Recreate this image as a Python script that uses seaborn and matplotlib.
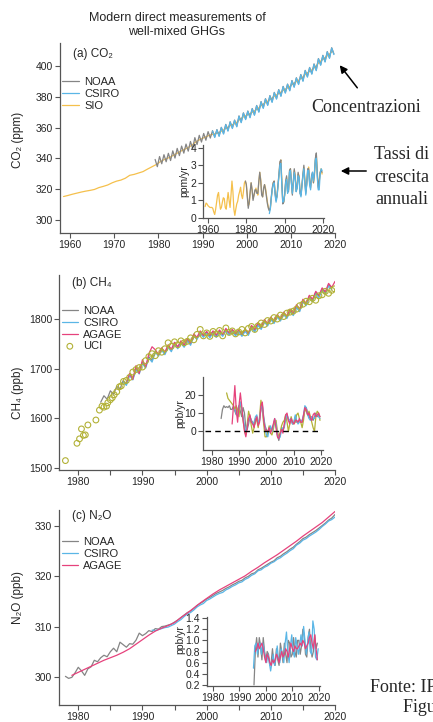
import numpy as np
import matplotlib
matplotlib.use("Agg")
import matplotlib.pyplot as plt
import seaborn as sns

sns.set_style("ticks")
plt.rcParams["font.family"] = ["Liberation Sans Narrow", "Liberation Sans", "DejaVu Sans"]

# colours of the networks
GRAY = "#858585"
BLUE = "#5ab6e6"
ORANGE = "#f5c04c"
PINK = "#e6427c"
OLIVE = "#b2b136"

# ---------------- (a) CO2, ppm ----------------
co2_sio_start = 1958.5          # annual means
co2_sio = [315.2, 315.9, 316.7, 317.4, 318.1, 318.7, 319.2, 319.8, 321.0, 321.8,
           322.7, 324.1, 325.2, 325.9, 327.1, 329.0, 329.6, 330.5, 331.4, 333.0,
           334.5, 336.0, 338.0, 339.5, 340.6, 342.2, 343.8, 345.3, 346.7, 348.4,
           350.8, 352.4, 353.7, 355.0, 355.8, 356.5, 358.0, 359.9, 361.6, 362.8,
           365.5, 367.4, 368.7, 370.3, 372.3, 374.8, 376.7, 378.7, 380.8, 382.6,
           384.6, 386.2, 388.5, 390.3, 392.4, 395.1, 397.0, 399.3, 402.7, 404.9,
           407.2, 409.8]
co2_noaa_start = 1979.25        # half-yearly (seasonal high / low)
co2_noaa = [339.3, 334.6, 341.2, 336.5, 342.4, 337.8, 343.3, 338.6, 344.9, 340.2,
            346.5, 341.8, 348.0, 343.4, 349.3, 344.7, 351.0, 346.4, 353.5, 349.0,
            355.0, 350.6, 356.2, 351.8, 357.4, 353.2, 358.0, 354.0, 358.7, 354.7,
            360.2, 356.2, 362.1, 358.1, 363.8, 359.8, 364.9, 360.9, 367.6, 363.6,
            369.6, 365.6, 370.8, 366.8, 372.4, 368.4, 374.4, 370.4, 376.9, 372.9,
            378.8, 374.8, 380.8, 376.8, 382.9, 378.9, 384.7, 380.7, 386.8, 382.8,
            388.3, 384.3, 390.6, 386.6, 392.4, 388.4, 394.5, 390.5, 397.2, 393.2,
            399.1, 395.1, 401.4, 397.4, 404.9, 400.9, 407.0, 403.0, 409.4, 405.4,
            411.9, 407.9]
co2_csiro_start = 1992.25
co2_csiro = [357.8, 353.6, 358.5, 354.3, 360.0, 355.8, 361.9, 357.7, 363.6, 359.4,
             364.7, 360.5, 367.4, 363.2, 369.4, 365.2, 370.6, 366.4, 372.2, 368.0,
             374.2, 370.0, 376.7, 372.5, 378.6, 374.4, 380.6, 376.4, 382.7, 378.5,
             384.5, 380.3, 386.6, 382.4, 388.1, 383.9, 390.4, 386.2, 392.2, 388.0,
             394.3, 390.1, 397.0, 392.8, 398.9, 394.7, 401.2, 397.0, 404.7, 400.5,
             406.8, 402.6, 409.2, 405.0, 411.7, 407.5]

# growth rates, ppm/yr, half-yearly
gr_co2_sio_start = 1958.5
gr_co2_sio = [0.65,
              0.85, 0.8, 0.7, 0.65, 0.6, 0.6, 0.6, 0.55, 0.35, 0.2,
              0.5, 0.9, 1.3, 1.45, 0.9, 0.5, 0.6, 0.9, 1.15, 1.1,
              0.6, 0.5, 1.0, 1.45, 1.0, 0.6, 1.3, 2.1, 1.5, 0.5,
              0.15, 0.5, 0.8, 0.95, 1.3, 1.5, 1.75, 1.3, 1.1, 1.5,
              2.0, 2.1, 1.9, 1.3, 0.7, 0.8, 1.4, 2.0, 1.6, 1.1,
              1.3, 1.5, 1.7, 1.5, 1.3, 2.0, 2.6, 2.2, 1.4, 1.2,
              1.6, 1.9, 1.7, 1.3, 0.9, 0.6, 0.45, 0.5, 1.1, 1.6,
              2.0, 2.1, 1.5, 1.1, 1.2, 1.8, 2.4, 3.1, 3.3, 2.2,
              1.0, 0.9, 1.3, 2.0, 2.3, 1.5, 1.6, 2.6, 2.8, 2.1,
              1.4, 2.0, 2.7, 2.4, 1.6, 1.7, 2.5, 2.4, 1.5, 1.3,
              1.8, 2.4, 2.9, 2.2, 1.5, 1.9, 2.7, 2.9, 2.1, 1.8,
              2.3, 2.5, 2.0, 2.4, 3.3, 3.6, 2.6, 1.8, 2.0, 2.6,
              2.8, 2.5]
gr_co2_noaa_start = 1979.5
gr_co2_noaa = [2.1,
               1.9, 1.2, 0.55, 0.9, 1.5, 2.0, 1.6, 1.0, 1.3, 1.6,
               1.6, 1.4, 1.4, 2.1, 2.6, 2.1, 1.3, 1.2, 1.7, 1.9,
               1.6, 1.2, 0.8, 0.55, 0.4, 0.6, 1.2, 1.7, 2.0, 2.1,
               1.4, 1.0, 1.3, 1.9, 2.5, 3.2, 3.3, 2.0, 0.8, 0.9,
               1.4, 2.1, 2.4, 1.5, 1.5, 2.7, 2.8, 2.0, 1.3, 2.1,
               2.8, 2.3, 1.5, 1.8, 2.6, 2.3, 1.4, 1.3, 1.9, 2.5,
               3.0, 2.1, 1.4, 2.0, 2.8, 2.8, 2.0, 1.7, 2.4, 2.6,
               2.0, 2.5, 3.4, 3.7, 2.5, 1.7, 2.1, 2.6, 2.7, 2.6]
gr_co2_csiro_start = 1992.0
gr_co2_csiro = [0.25, 0.5, 1.1, 1.6, 1.9, 2.0, 1.3, 0.9, 1.2, 1.8,
                2.4, 3.0, 3.1, 1.9, 0.9, 0.95, 1.3, 2.0, 2.2, 1.4,
                1.6, 2.6, 2.7, 2.0, 1.4, 2.0, 2.6, 2.2, 1.5, 1.7,
                2.4, 2.3, 1.4, 1.2, 1.8, 2.4, 2.8, 2.0, 1.3, 1.9,
                2.7, 2.7, 1.9, 1.6, 2.3, 2.6, 2.1, 2.6, 3.3, 3.4,
                2.3, 1.6, 1.6, 2.5, 2.8, 2.7]

# ---------------- (b) CH4, ppb ----------------
ch4_noaa_start = 1983.5
ch4_noaa = [1632, 1645, 1638, 1655, 1648, 1664, 1658, 1676, 1668, 1689,
            1680, 1700, 1693, 1713, 1704, 1724, 1716, 1736, 1728, 1740,
            1731, 1746, 1737, 1752, 1743, 1754, 1746, 1759, 1750, 1768,
            1762, 1774, 1766, 1774, 1765, 1775, 1766, 1776, 1768, 1779,
            1771, 1778, 1769, 1777, 1768, 1778, 1770, 1785, 1777, 1790,
            1782, 1797, 1789, 1802, 1794, 1807, 1799, 1812, 1804, 1818,
            1810, 1826, 1818, 1838, 1830, 1846, 1838, 1854, 1846, 1861,
            1853, 1870, 1862]
ch4_csiro_start = 1987.0
ch4_csiro = [1673, 1666, 1686, 1677, 1697, 1689, 1710, 1701, 1721, 1713,
             1733, 1725, 1737, 1728, 1743, 1734, 1749, 1740, 1751, 1743,
             1756, 1747, 1765, 1759, 1771, 1763, 1771, 1762, 1772, 1763,
             1773, 1765, 1776, 1768, 1775, 1766, 1774, 1765, 1775, 1767,
             1782, 1774, 1787, 1779, 1794, 1786, 1799, 1791, 1804, 1796,
             1809, 1801, 1815, 1807, 1823, 1815, 1835, 1827, 1843, 1835,
             1851, 1843, 1858, 1850, 1867, 1859]
ch4_agage_start = 1987.5
ch4_agage = [1672, 1690, 1678, 1706, 1690, 1718, 1703, 1730, 1744, 1738,
             1728, 1742, 1733, 1748, 1739, 1753, 1744, 1756, 1748, 1760,
             1752, 1770, 1763, 1776, 1767, 1775, 1767, 1776, 1768, 1778,
             1769, 1781, 1772, 1779, 1771, 1778, 1770, 1779, 1772, 1787,
             1779, 1793, 1784, 1799, 1791, 1804, 1796, 1809, 1801, 1814,
             1806, 1820, 1812, 1829, 1820, 1840, 1832, 1848, 1840, 1856,
             1848, 1863, 1855, 1872, 1864, 1876]
uci_year = [1978.0, 1979.8, 1980.2, 1980.5, 1980.8, 1981.1, 1981.5, 1982.75, 1983.3, 1983.7,
            1984.0, 1984.4, 1984.6, 1985.0, 1985.3, 1985.6, 1986.0, 1986.4, 1986.7, 1987.05,
            1987.5, 1988.0, 1988.5, 1989.0, 1989.5, 1990.0, 1990.5, 1991.0, 1991.5, 1992.0,
            1992.5, 1993.0, 1993.5, 1994.0, 1994.5, 1995.0, 1995.5, 1996.0, 1996.5, 1997.0,
            1997.5, 1998.0, 1998.5, 1999.0, 1999.5, 2000.0, 2000.5, 2001.0, 2001.5, 2002.0,
            2002.5, 2003.0, 2003.5, 2004.0, 2004.5, 2005.0, 2005.5, 2006.0, 2006.5, 2007.0,
            2007.5, 2008.0, 2008.5, 2009.0, 2009.5, 2010.0, 2010.5, 2011.0, 2011.5, 2012.0,
            2012.5, 2013.0, 2013.5, 2014.0, 2014.5, 2015.0, 2015.5, 2016.0, 2016.5, 2017.0,
            2017.5, 2018.0, 2018.5, 2019.0, 2019.5, 2019.9]
uci_ch4 = [1514, 1549, 1558, 1578, 1565, 1566, 1586, 1596, 1616, 1624,
           1622, 1624, 1631, 1637, 1641, 1647, 1653, 1663, 1665, 1674,
           1676, 1682, 1693, 1698, 1702, 1703, 1716, 1724, 1730, 1726,
           1736, 1733, 1740, 1752, 1745, 1754, 1748, 1756, 1752, 1755,
           1762, 1758, 1769, 1779, 1766, 1772, 1765, 1775, 1770, 1777,
           1766, 1782, 1773, 1776, 1770, 1774, 1779, 1772, 1781, 1785,
           1779, 1786, 1792, 1789, 1797, 1796, 1803, 1800, 1808, 1805,
           1812, 1814, 1816, 1820, 1827, 1830, 1836, 1835, 1842, 1838,
           1847, 1849, 1856, 1852, 1858, 1861]

# growth rates, ppb/yr, half-yearly
gr_ch4_noaa_start = 1983.5
gr_ch4_noaa = [7, 12, 14, 13, 13.5, 13, 14, 12, 12, 14,
               11, 9, 12, 14, 11, 8, 13, 10, 2, 1,
               4, 8, 6, 5, 3, 5, 7, 4, 6, 12,
               15, 8, 3, 1, -1, 0, 2, 1, 3, 6,
               3, -2, -5, -2, 2, 0, 3, 8, 9, 6,
               5, 6, 4, 5, 8, 5, 5, 6, 5, 5,
               8, 12, 13, 10, 8, 7, 8, 6, 8, 10,
               8, 9, 8]
gr_ch4_csiro_start = 1988.5
gr_ch4_csiro = [12, 10, 8, 13, 16, 12, 8, 3, 0, 3,
                6, 8, 6, 4, 5, 8, 9, 5, 6, 13,
                14, 7, 2, -2, -3, 1, 3, 0, 3, 7,
                4, -2, -4, -3, 1, 2, 2, 7, 9, 7,
                6, 7, 4, 5, 9, 6, 4, 5, 6, 6,
                9, 14, 13, 9, 7, 6, 8, 7, 7, 9,
                9, 8, 7]
gr_ch4_agage_start = 1987.5
gr_ch4_agage = [4, 14, 25, 12, 5, 14, 21, 14, 6, 0,
                -3, 2, 7, 9, 5, 4, 2, 6, 8, 3,
                5, 14, 16, 6, 1, 0, 0, 2, -1, 1,
                4, 7, 2, -3, -4, -1, 1, -1, 4, 9,
                10, 6, 4, 7, 5, 4, 6, 6, 5, 7,
                5, 5, 9, 13, 12, 9, 10, 7, 6, 9,
                10, 8, 9, 10, 8]
gr_ch4_uci_start = 1985.5
gr_ch4_uci = [21, 18, 17, 16, 15, 14, 12, 14, 11, 8,
              16, 12, 6, 1, -2, 4, 11, 8, 3, -1,
              2, 7, 6, 2, 8, 17, 12, 4, -3, -3,
              -1, 3, -1, -2, 1, 5, 6, 0, -3, -1,
              3, 5, 6, 9, 5, 0, 4, 8, 5, 4,
              5, 9, 10, 7, 5, 2, 6, 12, 11, 9,
              11, 8, 5, 2, 0, 8, 11, 10, 6]

# ---------------- (c) N2O, ppb ----------------
n2o_noaa_start = 1978.0
n2o_noaa = [300.1, 299.7, 299.9, 300.8, 301.9, 301.2, 300.3, 301.6, 302.0, 303.3,
            303.0, 303.8, 304.3, 304.0, 305.0, 305.7, 305.0, 306.9, 306.4, 305.9,
            306.6, 306.5, 307.3, 308.7, 308.2, 308.6, 309.2, 309.0, 309.6, 309.5,
            310.0, 310.1, 310.3, 310.5, 310.9, 311.3, 311.8, 312.3, 312.8, 313.1,
            313.6, 314.2, 314.6, 315.0, 315.5, 315.8, 316.2, 316.6, 316.9, 317.2,
            317.6, 317.9, 318.3, 318.6, 319.0, 319.2, 319.7, 320.0, 320.5, 320.7,
            321.3, 321.6, 322.0, 322.4, 322.8, 323.1, 323.7, 324.0, 324.5, 324.9,
            325.4, 325.8, 326.4, 326.9, 327.5, 327.8, 328.3, 328.7, 329.1, 329.6,
            330.1, 330.6, 331.2, 331.6, 332.3]
n2o_csiro_start = 1991.5
n2o_csiro = [309.3, 309.2, 309.4, 309.6, 309.8, 309.9, 310.2, 310.5, 311.0, 311.4,
             312.0, 312.5, 312.8, 313.3, 313.9, 314.3, 314.6, 315.2, 315.5, 315.9,
             316.3, 316.6, 316.8, 317.3, 317.6, 318.0, 318.3, 318.7, 318.9, 319.4,
             319.7, 320.2, 320.5, 321.1, 321.3, 321.8, 322.1, 322.6, 322.9, 323.4,
             323.7, 324.2, 324.6, 325.1, 325.5, 326.2, 326.6, 327.2, 327.5, 328.0,
             328.4, 328.8, 329.3, 329.9, 330.4, 331.0, 331.3, 331.8]
n2o_agage_start = 1979.0        # annual
n2o_agage = [300.3, 300.9, 301.5, 302.1, 302.7, 303.3, 303.8, 304.3, 304.9, 305.6,
             306.5, 307.4, 308.3, 309.1, 309.7, 310.2, 310.8, 311.8, 312.7, 313.7,
             314.7, 315.6, 316.5, 317.3, 318.0, 318.7, 319.4, 320.1, 321.0, 321.8,
             322.7, 323.5, 324.3, 325.2, 326.1, 327.0, 328.0, 328.9, 329.8, 330.7,
             331.8, 332.9]

# growth rates, ppb/yr, half-yearly
gr_n2o_noaa_start = 1995.5
gr_n2o_noaa = [0.2, 0.8, 1.05, 0.7, 1.05, 0.9, 0.65, 1.05, 0.8, 0.65,
               0.8, 0.75, 0.55, 0.6, 0.85, 0.6, 0.55, 0.85, 0.65, 0.55,
               0.95, 0.8, 0.6, 0.95, 0.75, 0.6, 1.0, 0.95, 0.7, 0.75,
               1.05, 0.8, 0.7, 1.0, 1.0, 0.75, 0.9, 1.2, 1.1, 0.75,
               0.7, 1.05, 1.2, 0.85, 0.7, 0.8, 1.1, 0.85, 0.95]
gr_n2o_csiro_start = 1995.3
gr_n2o_csiro = [0.5, 0.9, 0.95, 0.75, 0.9, 0.95, 0.75, 0.95, 0.85, 0.65,
                0.6, 0.75, 0.6, 0.45, 0.6, 0.75, 0.55, 0.7, 0.9, 0.65,
                0.6, 0.85, 0.75, 0.6, 0.95, 1.15, 0.8, 0.6, 0.9, 1.1,
                0.8, 0.7, 1.05, 0.9, 0.75, 0.9, 1.1, 0.9, 1.25, 1.0,
                0.75, 0.95, 1.15, 0.8, 0.75, 1.35, 1.2, 0.7, 0.65, 0.85]
gr_n2o_agage_start = 1996.0
gr_n2o_agage = [0.8, 0.85, 0.95, 0.85, 0.9, 0.95, 0.85, 0.7, 0.6, 0.75,
                0.7, 0.6, 0.55, 0.65, 0.6, 0.65, 0.75, 0.7, 0.6, 0.7,
                0.8, 0.7, 0.75, 0.85, 0.8, 0.7, 0.85, 0.95, 0.85, 0.8,
                0.9, 0.85, 0.85, 0.9, 0.95, 0.9, 1.0, 0.95, 0.85, 0.9,
                0.95, 1.05, 1.1, 0.95, 0.85, 1.1, 0.85, 0.65]


def years(start, vals, step=0.5):
    return start + step * np.arange(len(vals))


def line(ax, start, vals, color, label=None, step=0.5, lw=0.9):
    sns.lineplot(x=years(start, vals, step), y=vals, color=color, lw=lw,
                 ax=ax, label=label)


def style(ax, size=7.5):
    sns.despine(ax=ax)
    for s in ["left", "bottom"]:
        ax.spines[s].set_color("#555555")
        ax.spines[s].set_linewidth(0.9)
    ax.tick_params(labelsize=size, length=3.5, width=0.8, color="#555555", pad=1.5)
    ax.set_xlabel("")
    ax.set_ylabel("")
    ax.set_facecolor("none")


def legend(ax, order, x0, ytop, spacing):
    h, l = ax.get_legend_handles_labels()
    d = dict(zip(l, h))
    ax.legend([d[k] for k in order], order, loc="upper left", bbox_to_anchor=(x0, ytop),
              frameon=False, fontsize=8, handlelength=1.45, handletextpad=0.5,
              labelspacing=spacing, borderpad=0, borderaxespad=0)


W, H = 433, 722
fig = plt.figure(figsize=(W / 100, H / 100), dpi=100)


def rect(left, top, right, bottom):
    return [left / W, 1 - bottom / H, (right - left) / W, (bottom - top) / H]


ax_a = fig.add_axes(rect(60, 43, 335, 233))
ax_b = fig.add_axes(rect(59, 275, 335, 470))
ax_c = fig.add_axes(rect(59, 510, 335, 705))
in_a = fig.add_axes(rect(203, 145, 324, 218))
in_b = fig.add_axes(rect(203, 377, 323, 450))
in_c = fig.add_axes(rect(207, 617, 320, 686))

# (a)
line(ax_a, co2_sio_start, co2_sio, ORANGE, "SIO", step=1.0)
line(ax_a, co2_noaa_start, co2_noaa, GRAY, "NOAA")
line(ax_a, co2_csiro_start, co2_csiro, BLUE, "CSIRO")
ax_a.set_xlim(1957.7, 2020)
ax_a.set_ylim(291.5, 415)
ax_a.set_xticks(np.arange(1960, 2021, 10))
ax_a.set_yticks(np.arange(300, 401, 20))
style(ax_a)
legend(ax_a, ["NOAA", "CSIRO", "SIO"], 0.009, 0.822, 0.2)

line(in_a, gr_co2_sio_start, gr_co2_sio, ORANGE)
line(in_a, gr_co2_noaa_start, gr_co2_noaa, GRAY)
line(in_a, gr_co2_csiro_start, gr_co2_csiro, BLUE)
in_a.set_xlim(1957.4, 2020.5)
in_a.set_ylim(0, 4.15)
in_a.set_xticks(np.arange(1960, 2021, 20))
in_a.set_yticks(np.arange(0, 5, 1))
style(in_a)

# (b)
line(ax_b, ch4_noaa_start, ch4_noaa, GRAY, "NOAA")
line(ax_b, ch4_csiro_start, ch4_csiro, BLUE, "CSIRO")
line(ax_b, ch4_agage_start, ch4_agage, PINK, "AGAGE")
sns.scatterplot(x=uci_year, y=uci_ch4, ax=ax_b, marker="o", s=17, color=OLIVE,
                facecolors="none", edgecolor=OLIVE, linewidth=0.8, label="UCI", zorder=3)
ax_b.set_xlim(1977, 2020)
ax_b.set_ylim(1495, 1889)
ax_b.set_xticks(np.arange(1980, 2021, 10))
ax_b.set_xticks(np.arange(1980, 2021, 5), minor=True)
ax_b.set_yticks(np.arange(1500, 1801, 100))
style(ax_b)
ax_b.tick_params(which="minor", length=3.5, width=0.8, color="#555555")
legend(ax_b, ["NOAA", "CSIRO", "AGAGE", "UCI"], 0.01, 0.84, 0.15)

line(in_b, gr_ch4_noaa_start, gr_ch4_noaa, GRAY)
line(in_b, gr_ch4_uci_start, gr_ch4_uci, OLIVE)
line(in_b, gr_ch4_csiro_start, gr_ch4_csiro, BLUE)
line(in_b, gr_ch4_agage_start, gr_ch4_agage, PINK)
in_b.plot([1977.5, 2019], [0, 0], color="black", lw=1, ls=(0, (4, 3)))
in_b.set_xlim(1976.9, 2020.6)
in_b.set_ylim(-10.2, 29.7)
in_b.set_xticks(np.arange(1980, 2021, 10))
in_b.set_yticks([0, 10, 20])
style(in_b)

# (c)
line(ax_c, n2o_noaa_start, n2o_noaa, GRAY, "NOAA")
line(ax_c, n2o_csiro_start, n2o_csiro, BLUE, "CSIRO")
line(ax_c, n2o_agage_start, n2o_agage, PINK, "AGAGE", step=1.0)
ax_c.set_xlim(1977, 2020)
ax_c.set_ylim(294.4, 333.2)
ax_c.set_xticks(np.arange(1980, 2021, 10))
ax_c.set_xticks(np.arange(1980, 2021, 5), minor=True)
ax_c.set_yticks(np.arange(300, 331, 10))
style(ax_c)
ax_c.tick_params(which="minor", length=3.5, width=0.8, color="#555555")
legend(ax_c, ["NOAA", "CSIRO", "AGAGE"], 0.01, 0.86, 0.18)

line(in_c, gr_n2o_noaa_start, gr_n2o_noaa, GRAY)
line(in_c, gr_n2o_csiro_start, gr_n2o_csiro, BLUE)
line(in_c, gr_n2o_agage_start, gr_n2o_agage, PINK)
in_c.set_xlim(1977.7, 2020.5)
in_c.set_ylim(0.18, 1.42)
in_c.set_xticks(np.arange(1980, 2021, 10))
in_c.set_yticks(np.arange(0.2, 1.41, 0.2))
in_c.set_yticklabels([f"{v:.1f}" for v in np.arange(0.2, 1.41, 0.2)])
style(in_c)

# labels
fig.text(177 / W, 1 - 25 / H, "Modern direct measurements of\nwell-mixed GHGs",
         ha="center", va="center", fontsize=9, linespacing=1.2)
for txt, x, y in [("(a) CO₂", 73, 54), ("(b) CH₄", 72, 283), ("(c) N₂O", 72, 516)]:
    fig.text(x / W, 1 - y / H, txt, ha="left", va="center", fontsize=8.5)
for txt, x, y in [("CO₂ (ppm)", 18, 140), ("CH₄ (ppb)", 18, 393), ("N₂O (ppb)", 18, 598)]:
    fig.text(x / W, 1 - y / H, txt, ha="center", va="center", rotation=90, fontsize=8.5)
for txt, x, y in [("ppm/yr", 184, 181), ("ppb/yr", 180, 414), ("ppb/yr", 180, 640)]:
    fig.text(x / W, 1 - y / H, txt, ha="center", va="center", rotation=90, fontsize=7.5)

serif = ["Liberation Serif", "DejaVu Serif"]
fig.text(366 / W, 1 - 107 / H, "Concentrazioni", ha="center", va="center",
         fontsize=13, family=serif)
fig.text(402 / W, 1 - 177 / H, "Tassi di\ncrescita\nannuali", ha="center", va="center",
         fontsize=13, family=serif, linespacing=1.4)
fig.text(370 / W, 1 - 688 / H, "Fonte: IPCC AR6", ha="left", va="center",
         fontsize=13, family=serif)
fig.text(403 / W, 1 - 708 / H, "Figura 2.5", ha="left", va="center",
         fontsize=13, family=serif)

arrow = dict(arrowstyle="-|>", color="black", lw=1.1, mutation_scale=11)
ax_a.annotate("", xy=(338, H - 63), xytext=(359, H - 90), xycoords="figure pixels",
              textcoords="figure pixels", arrowprops=arrow, annotation_clip=False)
ax_a.annotate("", xy=(338, H - 171), xytext=(369, H - 171), xycoords="figure pixels",
              textcoords="figure pixels", arrowprops=arrow, annotation_clip=False)

fig.savefig("out.png", dpi=100)
